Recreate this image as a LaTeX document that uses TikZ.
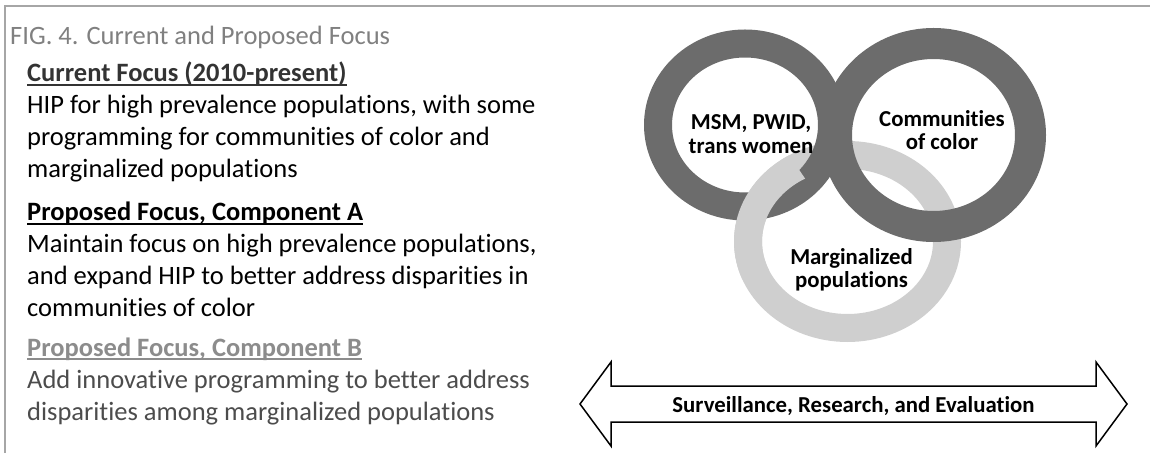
\documentclass[tikz,border=0pt]{standalone}
\usepackage{fontspec}
\setmainfont{Carlito}[Ligatures=NoCommon]
\newcommand\undl[1]{\leavevmode\setbox0\hbox{#1}\rlap{\vrule width\wd0 height -0.09em depth 0.145em}\box0}
\definecolor{ringdark}{HTML}{6C6C6C}
\definecolor{ringlight}{HTML}{CFCFCF}
\begin{document}
\begin{tikzpicture}[x=1pt,y=1pt,
  block/.style={anchor=base west,inner sep=0pt,align=left,font=\fontsize{26.5}{32}\selectfont},
  lbl/.style={inner sep=0pt,align=center,font=\fontsize{22.8}{23.5}\selectfont\bfseries}]
  \useasboundingbox (0,0) rectangle (1154,453);
  \draw[gray!70,line width=2pt] (5,0) -- (5,447) -- (1150,447);
  % text column (anchor base = last line)
  \node[block,text=gray] (title) at (10,408) {FIG. 4. Current and Proposed Focus};
  \node[block] (cur) at (27,275) {{\bfseries\color{black!80}\undl{Current Focus (2010-present)}}\\
    HIP for high prevalence populations, with some\\
    programming for communities of color and\\
    marginalized populations};
  \node[block] (compA) at (27,136) {{\bfseries\undl{Proposed Focus, Component A}}\\
    Maintain focus on high prevalence populations,\\
    and expand HIP to better address disparities in\\
    communities of color};
  \node[block,text=black!70] (compB) at (27,33) {{\bfseries\color{black!45}\undl{Proposed Focus, Component B}}\\
    Add innovative programming to better address\\
    disparities among marginalized populations};
  % rings
  \draw[ringlight,line width=28pt] (847.5,211.5) ellipse [x radius=99.5,y radius=86.5];
  \draw[ringdark,line width=28pt] (745,328) ellipse [x radius=87,y radius=81.5];
  \draw[ringdark,line width=31pt] (933.5,318) ellipse [x radius=97,y radius=91.5];
  \begin{scope}
    \clip (847.5,211.5) -- (707.7,418.8) -- (612.6,126) -- cycle;
    \draw[ringlight,line width=28pt] (847.5,211.5) ellipse [x radius=99.5,y radius=86.5];
  \end{scope}
  \node[lbl] (msm) at (751,319) {MSM, PWID,\\trans women};
  \node[lbl] (col) at (942,323) {Communities\\of color};
  \node[lbl] (marg) at (851.5,183) {Marginalized\\populations};
  % arrow
  \coordinate (ltip) at (580,49);
  \coordinate (rtip) at (1127,49);
  \draw[line width=1.5pt,fill=white] (ltip) -- ++(31,42) -- ++(0,-24) -- (1096,67) -- ++(0,24) -- (rtip)
    -- ++(-31,-42) -- ++(0,24) -- (611,31) -- ++(0,-24) -- cycle;
  \node[lbl,anchor=base] (sre) at (853.5,41) {Surveillance, Research, and Evaluation};
\end{tikzpicture}
\end{document}
